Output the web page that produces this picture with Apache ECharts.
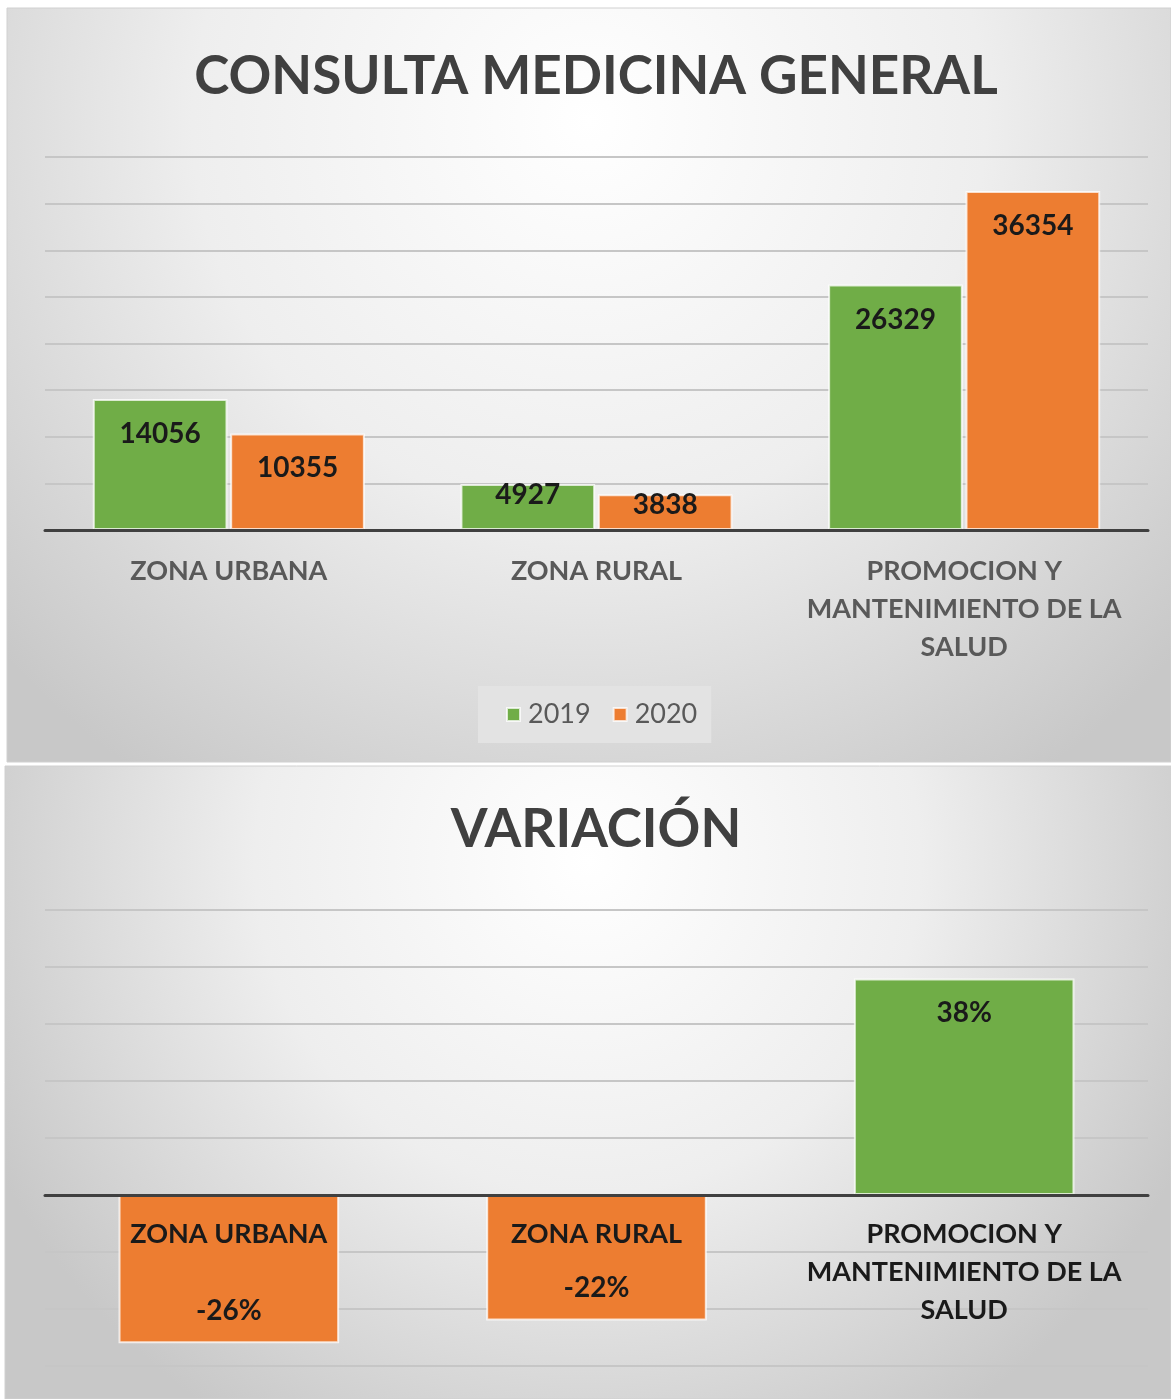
<!DOCTYPE html>
<html>
<head>
<meta charset="utf-8">
<script src="https://cdn.jsdelivr.net/npm/echarts@6/dist/echarts.min.js"></script>
<style>
  html, body { margin: 0; padding: 0; background: #ffffff; }
  #main { width: 1171px; height: 1399px; }
</style>
</head>
<body>
<div id="main"></div>
<script>
// datos
var categorias = ['ZONA URBANA', 'ZONA RURAL', 'PROMOCION Y\nMANTENIMIENTO DE LA\nSALUD'];
var anios = ['2019', '2020'];
var consultas2019 = [14056, 4927, 26329];
var consultas2020 = [10355, 3838, 36354];
var variacion = [-26, -22, 38]; // %

var verde = '#70ad47';
var naranja = '#ed7d31';
var fuente = 'Lato, "Open Sans", sans-serif';

// etiquetas de barras cortas van pegadas al borde superior
function itemsConsulta(valores) {
  return valores.map(function (v) {
    return {
      value: v,
      label: v < 6000 ? { position: 'insideTop', distance: -3 } : {}
    };
  });
}

function fondo(x, y, w, h) {
  return {
    type: 'rect',
    z: -10,
    silent: true,
    shape: { x: x, y: y, width: w, height: h },
    style: {
      fill: new echarts.graphic.RadialGradient(0.5, 0.15, 1.05, [
        { offset: 0, color: '#ffffff' },
        { offset: 0.5, color: '#eeeeee' },
        { offset: 1, color: '#c8c8c8' }
      ]),
      stroke: '#d0d0d0',
      lineWidth: 1
    }
  };
}

var chart = echarts.init(document.getElementById('main'));

var gridVar = { left: 45, right: 23, top: 910, height: 456, outerBoundsMode: 'none' };
var minVar = -30, maxVar = 50;
// el eje de categorías va sobre la línea del cero
var offsetCero = -gridVar.height * (0 - minVar) / (maxVar - minVar);

var option = {
  animation: false,
  textStyle: { fontFamily: fuente },
  graphic: [
    fondo(7, 8, 1164, 754),
    fondo(5, 766, 1166, 633)
  ],
  title: [
    {
      text: 'CONSULTA MEDICINA GENERAL',
      left: 596, top: 49, textAlign: 'center', padding: 0,
      textStyle: { fontFamily: fuente, fontSize: 53, fontWeight: 'bold', color: '#404040', lineHeight: 56 }
    },
    {
      text: 'VARIACIÓN',
      left: 596, top: 802, textAlign: 'center', padding: 0,
      textStyle: { fontFamily: fuente, fontSize: 53, fontWeight: 'bold', color: '#404040', lineHeight: 56 }
    }
  ],
  legend: {
    data: anios,
    left: 478, top: 686,
    padding: [15, 14, 15, 28],
    backgroundColor: '#e3e3e3',
    icon: 'rect',
    itemWidth: 13, itemHeight: 13, itemGap: 22,
    textStyle: { fontFamily: fuente, fontSize: 27, color: '#595959', padding: [0, 0, 0, 3] }
  },
  grid: [
    { left: 45, right: 23, top: 157, height: 373, outerBoundsMode: 'none' },
    gridVar
  ],
  xAxis: [
    {
      type: 'category', gridIndex: 0, data: categorias,
      z: 10,
      axisLine: { lineStyle: { color: '#404040', width: 3 } },
      axisTick: { show: false },
      axisLabel: { margin: 22, fontFamily: fuente, fontSize: 27, fontWeight: 'bold', color: '#595959', lineHeight: 38, interval: 0 }
    },
    {
      type: 'category', gridIndex: 1, data: categorias,
      z: 10,
      offset: offsetCero,
      axisLine: { onZero: false, lineStyle: { color: '#404040', width: 3 } },
      axisTick: { show: false },
      axisLabel: { margin: 20, fontFamily: fuente, fontSize: 27, fontWeight: 'bold', color: '#1a1a1a', lineHeight: 38, interval: 0 }
    }
  ],
  yAxis: [
    {
      type: 'value', gridIndex: 0, min: 0, max: 40000, interval: 5000,
      axisLabel: { show: false }, axisLine: { show: false }, axisTick: { show: false },
      splitLine: { lineStyle: { color: '#c6c6c6', width: 2 } }
    },
    {
      type: 'value', gridIndex: 1, min: minVar, max: maxVar, interval: 10,
      axisLabel: { show: false }, axisLine: { show: false }, axisTick: { show: false },
      splitLine: { lineStyle: { color: '#c6c6c6', width: 2 } }
    }
  ],
  series: [
    {
      name: '2019', type: 'bar', xAxisIndex: 0, yAxisIndex: 0,
      data: itemsConsulta(consultas2019),
      barGap: '2%', barCategoryGap: '26%',
      itemStyle: { color: verde, borderColor: 'rgba(255,255,255,0.75)', borderWidth: 2 },
      label: { show: true, position: 'insideTop', distance: 21, fontFamily: fuente, fontSize: 28, fontWeight: 'bold', color: '#1a1a1a' }
    },
    {
      name: '2020', type: 'bar', xAxisIndex: 0, yAxisIndex: 0,
      data: itemsConsulta(consultas2020),
      itemStyle: { color: naranja, borderColor: 'rgba(255,255,255,0.75)', borderWidth: 2 },
      label: { show: true, position: 'insideTop', distance: 21, fontFamily: fuente, fontSize: 28, fontWeight: 'bold', color: '#1a1a1a' }
    },
    {
      name: 'Variación', type: 'bar', xAxisIndex: 1, yAxisIndex: 1,
      barCategoryGap: '40%',
      data: variacion.map(function (v) {
        return {
          value: v,
          itemStyle: { color: v < 0 ? naranja : verde },
          label: { position: v < 0 ? 'insideBottom' : 'insideTop', distance: v < 0 ? 18 : 21 }
        };
      }),
      itemStyle: { borderColor: 'rgba(255,255,255,0.75)', borderWidth: 2 },
      label: {
        show: true, fontFamily: fuente, fontSize: 28, fontWeight: 'bold', color: '#1a1a1a',
        formatter: function (p) { return p.value + '%'; }
      }
    }
  ]
};

chart.setOption(option);
</script>
</body>
</html>
